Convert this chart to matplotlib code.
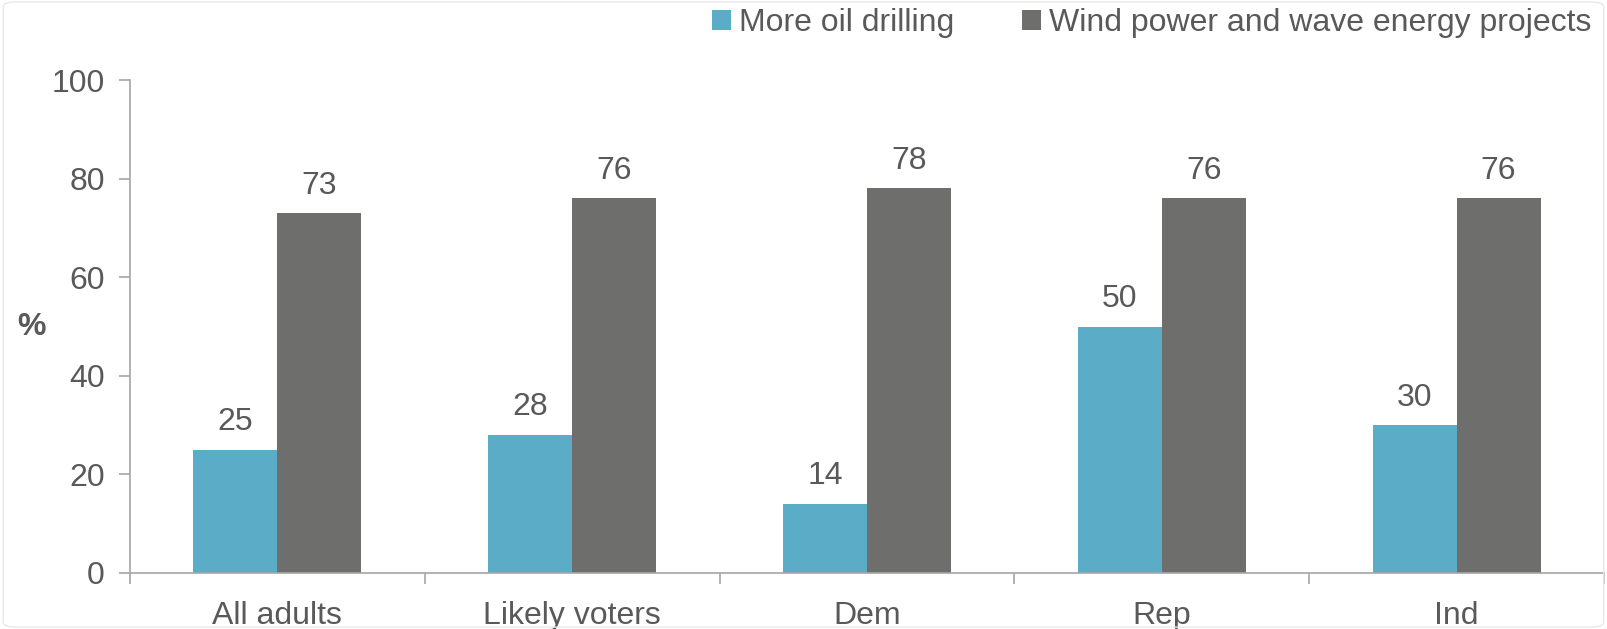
import matplotlib
matplotlib.use("Agg")
import matplotlib.pyplot as plt
import numpy as np
from matplotlib.patches import FancyBboxPatch

categories = ["All adults", "Likely voters", "Dem", "Rep", "Ind"]
oil = [25, 28, 14, 50, 30]
wind = [73, 76, 78, 76, 76]
series_names = ["More oil drilling", "Wind power and wave energy projects"]
yticks = [0, 20, 40, 60, 80, 100]

teal = "#5BACC6"
gray = "#6E6F6C"
txt = "#595959"
axcol = "#A6A6A6"

plt.rcParams['font.family'] = ['Liberation Sans', 'DejaVu Sans']

fig = plt.figure(figsize=(16.07, 6.29), dpi=100)
ax = fig.add_axes([130/1607, 1-573/629, (1604-130)/1607, 493/629])

x = np.arange(len(categories))
w = 0.285
b1 = ax.bar(x - w/2, oil, w, color=teal, label=series_names[0])
b2 = ax.bar(x + w/2, wind, w, color=gray, label=series_names[1])

for bars, vals in ((b1, oil), (b2, wind)):
    for r, v in zip(bars, vals):
        ax.annotate(str(v), (r.get_x() + r.get_width()/2, v), xytext=(0, 9),
                    textcoords="offset points", ha="center", va="bottom",
                    fontsize=23, color=txt)

ax.set_xlim(-0.5, len(categories) - 0.5)
ax.set_ylim(0, 100)
ax.set_yticks(yticks)
ax.set_yticklabels([str(t) for t in yticks])
ax.set_xticks(x)
ax.set_xticklabels(categories)
ax.set_xticks(np.arange(-0.5, len(categories)), minor=True)
ax.tick_params(axis='x', which='major', length=0, pad=20, labelsize=23, labelcolor=txt)
ax.tick_params(axis='x', which='minor', length=8, color=axcol, width=1.2, direction='out')
ax.tick_params(axis='y', length=8, color=axcol, width=1.2, pad=10, labelsize=23, labelcolor=txt)

for s in ("top", "right"):
    ax.spines[s].set_visible(False)
for s in ("left", "bottom"):
    ax.spines[s].set_color(axcol)
    ax.spines[s].set_linewidth(1.2)

fig.text(31/1607, 1-327/629, "%", fontsize=23, fontweight="bold", color=txt,
         ha="center", va="center")

leg = fig.legend(handles=[b1, b2], loc="upper right", bbox_to_anchor=(1.0, 1.012),
                 ncol=2, frameon=False, handlelength=0.6, handleheight=0.6,
                 handletextpad=0.25, columnspacing=2.1, borderaxespad=0.1,
                 prop={'family': ['Liberation Sans', 'DejaVu Sans'], 'size': 23})
for t in leg.get_texts():
    t.set_color(txt)

fig.patches.append(FancyBboxPatch((0.002, 0.003), 0.996, 0.994, boxstyle="round,pad=0,rounding_size=0.008",
                                  transform=fig.transFigure, fill=False, edgecolor="#E8E8E8", linewidth=1))

fig.savefig("out.png", dpi=100)
